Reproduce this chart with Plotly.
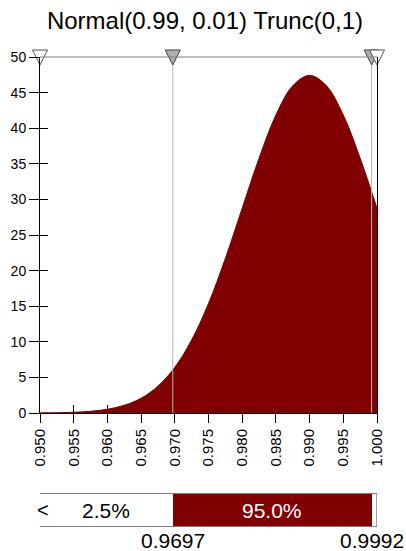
import plotly.graph_objects as go

# Normal(0.99, 0.01) truncated to (0, 1): density over the displayed window
x_vals = [0.9500, 0.9525, 0.9550, 0.9575, 0.9600, 0.9625, 0.9650, 0.9675, 0.9700,
          0.9725, 0.9750, 0.9775, 0.9800, 0.9825, 0.9850, 0.9875, 0.9900,
          0.9925, 0.9950, 0.9975, 1.0000]
density = [0.02, 0.04, 0.10, 0.24, 0.53, 1.08, 2.08, 3.77, 6.42,
           10.26, 15.39, 21.71, 28.76, 35.79, 41.85, 45.96, 47.42,
           45.96, 41.85, 35.79, 28.76]

# window and delimiters
x_min, x_max = 0.950, 1.000
y_max = 50
p_low, p_high = 0.9697, 0.9992
pct_left, pct_mid = 2.5, 95.0

x_ticks = [0.950, 0.955, 0.960, 0.965, 0.970, 0.975, 0.980, 0.985, 0.990, 0.995, 1.000]
x_tick_text = ["0.950", "0.955", "0.960", "0.965", "0.970", "0.975",
               "0.980", "0.985", "0.990", "0.995", "1.000"]
y_ticks = [0, 5, 10, 15, 20, 25, 30, 35, 40, 45, 50]

RED = "#800000"
GRAY = "#808080"
FONT = "Liberation Sans, Arial, sans-serif"

fig = go.Figure()

# density area
fig.add_trace(go.Scatter(
    x=x_vals, y=density, mode="lines", line=dict(color=RED, width=1, shape="spline"),
    fill="tozeroy", fillcolor=RED, xaxis="x", yaxis="y", hoverinfo="skip"))

# delimiter lines
for p in (p_low, p_high):
    fig.add_trace(go.Scatter(
        x=[p, p], y=[0, y_max], mode="lines",
        line=dict(color="#b8b8b8", width=1), xaxis="x", yaxis="y", hoverinfo="skip"))

# delimiter handles along the top edge
fig.add_trace(go.Scatter(
    x=[p_low, p_high], y=[y_max, y_max], mode="markers", cliponaxis=False,
    marker=dict(symbol="arrow-down", size=15, standoff=8, color="#b0b0b0",
                line=dict(color="#404040", width=1)),
    xaxis="x", yaxis="y", hoverinfo="skip"))
fig.add_trace(go.Scatter(
    x=[x_min, x_max], y=[y_max, y_max], mode="markers", cliponaxis=False,
    marker=dict(symbol="arrow-down", size=15, standoff=8, color="white",
                line=dict(color="#505050", width=1)),
    xaxis="x", yaxis="y", hoverinfo="skip"))

# probability bar
seg_starts = [x_min, p_low, p_high]
seg_ends = [p_low, p_high, x_max]
fig.add_trace(go.Bar(
    orientation="h", y=[0.5, 0.5, 0.5],
    base=seg_starts, x=[e - s for s, e in zip(seg_starts, seg_ends)],
    width=1, marker=dict(color=["white", RED, "white"], line=dict(width=0)),
    xaxis="x2", yaxis="y3", hoverinfo="skip"))

plot_h = (551 - 57 - 25)
main_bottom = (526 - 413) / plot_h
bar_dom_top = (526 - 494) / plot_h

axis_common = dict(showgrid=False, zeroline=False)

fig.update_layout(
    width=406, height=551,
    margin=dict(l=40, r=29, t=57, b=25),
    plot_bgcolor="white", paper_bgcolor="white",
    showlegend=False, bargap=0,
    font=dict(family=FONT, color="black"),
    title=dict(text="Normal(0.99, 0.01) Trunc(0,1)", x=205 / 406, xanchor="center",
               yref="container", y=1 - 21 / 551, yanchor="middle",
               font=dict(size=24, family=FONT, color="black")),
    xaxis=dict(domain=[0, 1], range=[x_min, x_max], anchor="y",
               tickmode="array", tickvals=x_ticks, ticktext=x_tick_text,
               ticks="outside", ticklen=9, tickcolor="black", tickwidth=1,
               tickangle=-90, tickfont=dict(size=15),
               showline=True, linecolor="black", linewidth=1, **axis_common),
    xaxis3=dict(range=[x_min, x_max], overlaying="x", anchor="y",
                tickmode="array", tickvals=x_ticks, ticks="inside", ticklen=8,
                tickcolor="black", showticklabels=False, layer="below traces",
                showline=False, **axis_common),
    yaxis=dict(domain=[main_bottom, 1], range=[0, y_max], anchor="x",
               tickmode="array", tickvals=y_ticks,
               ticks="outside", ticklen=10, tickcolor="black", tickwidth=1,
               tickfont=dict(size=14), ticklabelstandoff=0,
               showline=True, mirror=True, linecolor="black", linewidth=1, **axis_common),
    yaxis4=dict(range=[0, y_max], overlaying="y", anchor="x", side="left",
                tickmode="array", tickvals=y_ticks, ticks="inside", ticklen=8,
                tickcolor="black", showticklabels=False, layer="below traces",
                showline=False, **axis_common),
    xaxis2=dict(domain=[0, 1], range=[x_min, x_max], anchor="y3",
                showline=True, mirror=True, linecolor=GRAY, linewidth=1,
                showticklabels=False, ticks="", **axis_common),
    yaxis3=dict(domain=[0, bar_dom_top], range=[0, 1], anchor="x2",
                showline=False, showticklabels=False, ticks="", **axis_common),
)

# invisible point so the overlay axes are drawn
fig.add_trace(go.Scatter(x=[x_min], y=[0], mode="markers", marker=dict(opacity=0),
                         xaxis="x3", yaxis="y4", hoverinfo="skip"))

# top edge of the plot area
fig.add_shape(type="line", xref="x domain", yref="y domain", x0=0, x1=1, y0=1, y1=1,
              line=dict(color=GRAY, width=1))
# right edge of the probability bar
fig.add_shape(type="line", xref="x2", yref="y3 domain", x0=x_max, x1=x_max, y0=0, y1=1,
              line=dict(color="#404040", width=1))

# bar labels
fig.add_annotation(x=x_min, y=0.5, xref="x2", yref="y3", text="<", showarrow=False,
                   xanchor="center", xshift=3, font=dict(size=20, color="black"))
fig.add_annotation(x=(x_min + p_low) / 2, y=0.5, xref="x2", yref="y3",
                   text=f"{pct_left:.1f}%", showarrow=False,
                   font=dict(size=21, color="black"))
fig.add_annotation(x=(p_low + p_high) / 2, y=0.5, xref="x2", yref="y3",
                   text=f"{pct_mid:.1f}%", showarrow=False,
                   font=dict(size=21, color="white"))
for p in (p_low, p_high):
    fig.add_annotation(x=p, y=0, xref="x2", yref="y3 domain", text=f"{p:.4f}",
                       showarrow=False, yanchor="top", yshift=-1,
                       font=dict(size=21, color="black"))

fig.write_html("out.html")
